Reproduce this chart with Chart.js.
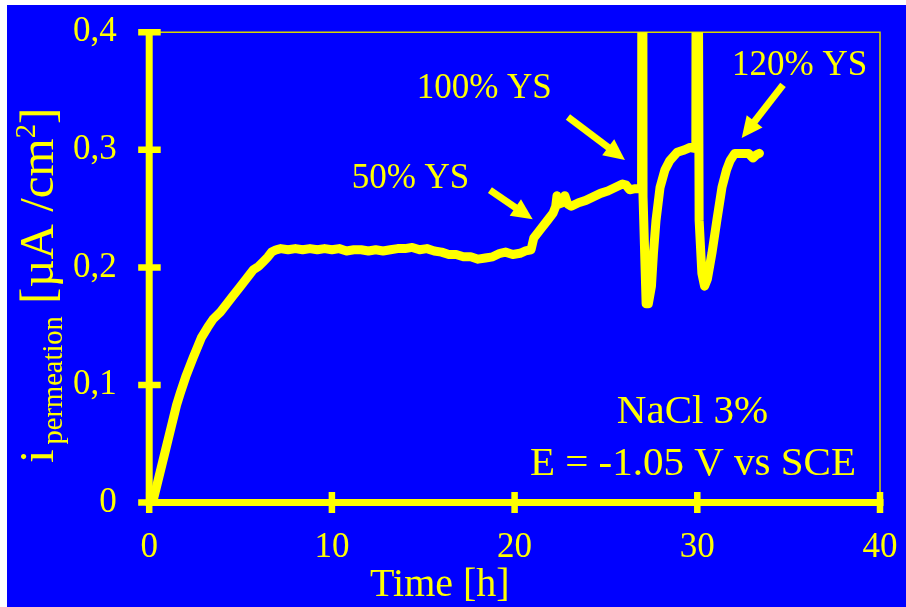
<!DOCTYPE html>
<html>
<head>
<meta charset="utf-8">
<script src="https://cdn.jsdelivr.net/npm/chart.js@4"></script>
<style>
  html, body { margin: 0; padding: 0; background: #ffffff; width: 906px; height: 607px; overflow: hidden; }
  #wrap { position: absolute; left: 7px; top: 5px; width: 899px; height: 602px; background: #0000ff; }
  canvas { display: block; }
</style>
</head>
<body>
<div id="wrap"><canvas id="c" width="899" height="602"></canvas></div>
<script>
// Permeation current during the charging test (time in hours, current in µA/cm²)
const hours = [
  0, 0.25, 0.6, 0.9, 1.2, 1.5, 1.7, 2.0, 2.4, 2.85, 3.2, 3.5, 3.9, 4.25, 4.6, 5.0, 5.35, 5.7, 6.0, 6.25,
  6.5, 6.7, 6.95, 7.2, 7.6, 8.0, 8.4, 8.8, 9.2, 9.6, 10.0, 10.4, 10.8, 11.2, 11.6, 12.0, 12.4, 12.8, 13.2, 13.6,
  14.0, 14.4, 14.8, 15.2, 15.6, 16.0, 16.4, 16.8, 17.2, 17.6, 18.0, 18.4, 18.8, 19.2, 19.5, 19.9, 20.3, 20.6, 20.9, 21.05,
  21.4, 21.8, 22.1, 22.25, 22.32, 22.45, 22.6, 22.75, 22.9, 23.1, 23.5, 23.9, 24.3, 24.7, 25.1, 25.5, 25.9, 26.1, 26.3, 26.6,
  26.95, 27.0, 27.03, 27.2, 27.32, 27.49, 27.6, 27.74, 27.96, 28.23, 28.5, 28.9, 29.3, 29.6, 29.92, 29.97, 30.1, 30.25, 30.4, 30.55,
  30.8, 31.07, 31.35, 31.6, 31.8, 32.05, 32.4, 32.8, 33.05, 33.25, 33.4
];
const current = [
  0, 0.004, 0.026, 0.045, 0.064, 0.083, 0.093, 0.107, 0.123, 0.140, 0.149, 0.156, 0.162, 0.169, 0.176, 0.184, 0.191, 0.198, 0.201, 0.205,
  0.209, 0.213, 0.215, 0.216, 0.215, 0.216, 0.215, 0.216, 0.215, 0.216, 0.215, 0.216, 0.214, 0.215, 0.215, 0.214, 0.215, 0.214, 0.215, 0.216,
  0.216, 0.217, 0.215, 0.216, 0.214, 0.213, 0.211, 0.211, 0.209, 0.209, 0.207, 0.208, 0.209, 0.212, 0.213, 0.211, 0.212, 0.214, 0.215, 0.225,
  0.232, 0.240, 0.246, 0.252, 0.261, 0.254, 0.255, 0.261, 0.254, 0.252, 0.255, 0.257, 0.260, 0.263, 0.265, 0.268, 0.271, 0.270, 0.266, 0.267,
  0.267, 0.9, 0.26, 0.169, 0.169, 0.184, 0.212, 0.240, 0.268, 0.283, 0.291, 0.298, 0.300, 0.302, 0.301, 0.9, 0.24, 0.195, 0.184, 0.190,
  0.212, 0.240, 0.268, 0.283, 0.291, 0.297, 0.297, 0.297, 0.293, 0.296, 0.297
];
const xTicks = [0, 10, 20, 30, 40];
const yTicks = [0, 0.1, 0.2, 0.3, 0.4];

// Load-level labels with their arrows, in data units (label anchor, arrow tail, arrow tip)
const loadLabels = ['50% YS', '100% YS', '120% YS'];
const labelAt = [[11.08, 0.2675], [14.64, 0.3441], [31.9, 0.3637]];
const arrowFrom = [[18.65, 0.2658], [22.92, 0.3280], [34.69, 0.3552]];
const arrowTo = [[20.99, 0.2409], [26.04, 0.2914], [32.43, 0.3101]];
const conditions = ['NaCl 3%', 'E = -1.05 V vs SCE'];
const conditionsAt = [[29.74, 0.0676], [29.76, 0.0234]];

const YELLOW = '#ffff00';
const SERIF = '"Liberation Serif", "Times New Roman", serif';

function drawArrow(ctx, x1, y1, x2, y2) {
  const dx = x2 - x1, dy = y2 - y1, len = Math.hypot(dx, dy);
  const ux = dx / len, uy = dy / len;
  const head = 21, half = 10;
  const bx = x2 - ux * head, by = y2 - uy * head;
  ctx.save();
  ctx.strokeStyle = YELLOW;
  ctx.fillStyle = YELLOW;
  ctx.lineWidth = 7;
  ctx.lineCap = 'butt';
  ctx.beginPath();
  ctx.moveTo(x1, y1);
  ctx.lineTo(bx + ux * 2, by + uy * 2);
  ctx.stroke();
  ctx.beginPath();
  ctx.moveTo(x2, y2);
  ctx.lineTo(bx - uy * half, by + ux * half);
  ctx.lineTo(bx + uy * half, by - ux * half);
  ctx.closePath();
  ctx.fill();
  ctx.restore();
}

// keep the plot box at a fixed place: no extra room for overhanging tick labels
function noOverhang(s) {
  s.paddingLeft = 0; s.paddingRight = 0; s.paddingTop = 0; s.paddingBottom = 0;
}

const framePlugin = {
  id: 'frame',
  beforeDatasetsDraw(chart) {
    const { ctx, chartArea: a, scales: { x, y } } = chart;
    ctx.save();
    // thin box on top and right
    ctx.strokeStyle = '#d6d600';
    ctx.lineWidth = 1.5;
    ctx.beginPath();
    ctx.moveTo(a.left, a.top);
    ctx.lineTo(a.right, a.top);
    ctx.lineTo(a.right, a.bottom);
    ctx.stroke();
    // heavy axes
    ctx.strokeStyle = YELLOW;
    ctx.lineWidth = 7;
    ctx.lineCap = 'butt';
    ctx.beginPath();
    ctx.moveTo(a.left, a.top - 3);
    ctx.lineTo(a.left, a.bottom + 3.5);
    ctx.moveTo(a.left - 3.5, a.bottom);
    ctx.lineTo(a.right + 3.5, a.bottom);
    ctx.stroke();
    // tick marks crossing the axes
    ctx.lineWidth = 6.5;
    ctx.beginPath();
    yTicks.forEach(v => {
      const py = y.getPixelForValue(v);
      ctx.moveTo(a.left - 11, py);
      ctx.lineTo(a.left + 11.5, py);
    });
    xTicks.forEach(v => {
      const px = x.getPixelForValue(v);
      ctx.moveTo(px, a.bottom - 10.5);
      ctx.lineTo(px, a.bottom + 10.5);
    });
    ctx.stroke();
    ctx.restore();
  },
  afterDatasetsDraw(chart) {
    const { ctx, scales: { x, y } } = chart;
    ctx.save();
    ctx.fillStyle = YELLOW;
    ctx.textBaseline = 'alphabetic';
    // load level labels and arrows
    ctx.font = '35px ' + SERIF;
    ctx.textAlign = 'left';
    loadLabels.forEach((t, i) => {
      ctx.fillText(t, x.getPixelForValue(labelAt[i][0]), y.getPixelForValue(labelAt[i][1]));
      drawArrow(ctx,
        x.getPixelForValue(arrowFrom[i][0]), y.getPixelForValue(arrowFrom[i][1]),
        x.getPixelForValue(arrowTo[i][0]), y.getPixelForValue(arrowTo[i][1]));
    });
    // test conditions
    ctx.font = '41px ' + SERIF;
    ctx.textAlign = 'center';
    conditions.forEach((t, i) => {
      ctx.fillText(t, x.getPixelForValue(conditionsAt[i][0]), y.getPixelForValue(conditionsAt[i][1]));
    });
    // x axis title
    ctx.font = '40px ' + SERIF;
    ctx.textAlign = 'left';
    ctx.fillText('Time [h]', 363, 591);
    // y axis title with subscript and superscript
    ctx.translate(46, 458);
    ctx.rotate(-Math.PI / 2);
    ctx.textAlign = 'left';
    const big = '49px ' + SERIF, small = '28.5px ' + SERIF;
    const parts = [
      ['i', big, 0, 5],
      ['permeation', small, 9, 0],
      [' [\u00b5A /cm', big, 0, 0],
      ['2', small, -18, 0],
      [']', big, 0, 0]
    ];
    let pos = 0;
    parts.forEach(([txt, f, dy, gap]) => {
      ctx.font = f;
      ctx.fillText(txt, pos, dy);
      pos += ctx.measureText(txt).width + gap;
    });
    ctx.restore();
  }
};

new Chart(document.getElementById('c'), {
  type: 'line',
  data: {
    datasets: [{
      data: hours.map((t, i) => ({ x: t, y: current[i] })),
      borderColor: YELLOW,
      borderWidth: 9,
      pointRadius: 0,
      tension: 0,
      borderJoinStyle: 'round',
      borderCapStyle: 'round',
      clip: { left: 10, top: 0, right: 10, bottom: 10 }
    }]
  },
  options: {
    responsive: false,
    animation: false,
    devicePixelRatio: 1,
    layout: { padding: { top: 27.3, right: 26, bottom: 0, left: 0 } },
    plugins: { legend: { display: false }, tooltip: { enabled: false } },
    scales: {
      x: {
        type: 'linear',
        min: 0, max: 40,
        afterBuildTicks: s => { s.ticks = xTicks.map(v => ({ value: v })); },
        afterFit: s => { s.height = 104.5; noOverhang(s); },
        grid: { display: false, drawTicks: false },
        border: { display: false },
        ticks: {
          color: YELLOW,
          font: { family: SERIF, size: 35 },
          padding: 24,
          maxRotation: 0,
          autoSkip: false,
          callback: v => String(v)
        }
      },
      y: {
        type: 'linear',
        min: 0, max: 0.4,
        afterBuildTicks: s => { s.ticks = yTicks.map(v => ({ value: v })); },
        afterFit: s => { s.width = 142.2; noOverhang(s); },
        grid: { display: false, drawTicks: false },
        border: { display: false },
        ticks: {
          color: YELLOW,
          font: { family: SERIF, size: 35 },
          padding: 32.5,
          autoSkip: false,
          callback: v => (v === 0 ? '0' : v.toFixed(1).replace('.', ','))
        }
      }
    }
  },
  plugins: [framePlugin]
});
</script>
</body>
</html>
